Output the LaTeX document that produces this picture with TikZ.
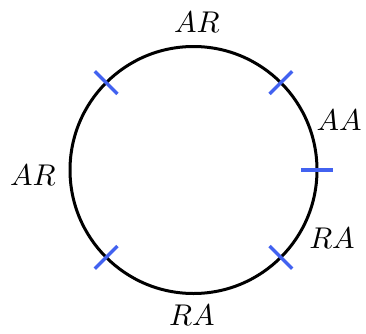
\documentclass[tikz,border=0pt]{standalone}
\usetikzlibrary{calc}
\definecolor{tickblue}{RGB}{66,98,240}
\tikzset{
  ring/.style={circle,draw=black,line width=3pt,minimum size=247pt,inner sep=0pt,outer sep=0pt},
  tickmark/.style={draw=tickblue,line width=3.5pt},
  lab/.style={inner sep=0pt}
}
\newcommand{\biglab}[1]{\scalebox{3.0}{$#1$}}
\begin{document}
\begin{tikzpicture}[x=1pt,y=1pt]
\useasboundingbox (0,0) rectangle (366,333);
\node[ring] (c) at (193.5,163) {};
\foreach \a/\n in {135/t1,45/t2,0/t3,-45/t4,-135/t5}{
  \draw[tickmark] ([shift={(\a:-16)}]c.\a) -- ([shift={(\a:16)}]c.\a);
}
\node[lab] (l1) at (197,311) {\biglab{AR}};
\node[lab] (l2) at (339,213) {\biglab{AA}};
\node[lab] (l3) at (33,158) {\biglab{AR}};
\node[lab] (l4) at (332,95) {\biglab{RA}};
\node[lab] (l5) at (192,18) {\biglab{RA}};
\end{tikzpicture}
\end{document}
